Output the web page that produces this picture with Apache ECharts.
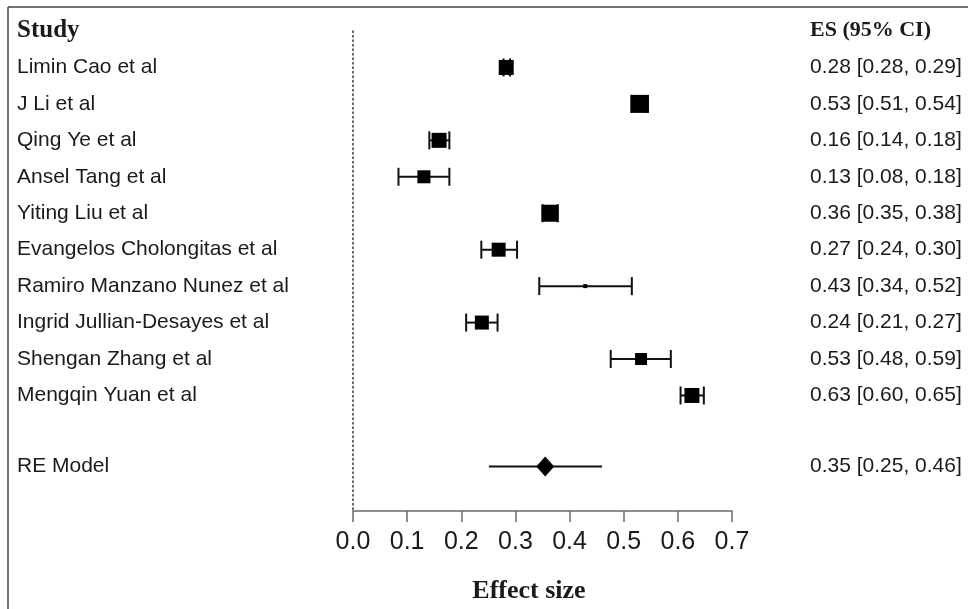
<!DOCTYPE html>
<html><head><meta charset="utf-8">
<script src="https://cdn.jsdelivr.net/npm/echarts@6/dist/echarts.min.js"></script>
<style>html,body{margin:0;padding:0;background:#fff}#c{width:968px;height:609px}</style>
</head><body><div id="c"></div>
<script>
var studies = ["Limin Cao et al","J Li et al","Qing Ye et al","Ansel Tang et al","Yiting Liu et al","Evangelos Cholongitas et al","Ramiro Manzano Nunez et al","Ingrid Jullian-Desayes et al","Shengan Zhang et al","Mengqin Yuan et al"];
var estimates = [0.283, 0.530, 0.159, 0.131, 0.364, 0.269, 0.429, 0.238, 0.532, 0.626];
var lower =     [0.278, 0.514, 0.141, 0.084, 0.350, 0.237, 0.344, 0.209, 0.476, 0.605];
var upper =     [0.290, 0.544, 0.178, 0.178, 0.378, 0.303, 0.515, 0.267, 0.587, 0.648];
var weights =   [15, 18, 15, 13, 17, 14, 4, 14, 12, 15];
var esLabels = ["0.28 [0.28, 0.29]","0.53 [0.51, 0.54]","0.16 [0.14, 0.18]","0.13 [0.08, 0.18]","0.36 [0.35, 0.38]","0.27 [0.24, 0.30]","0.43 [0.34, 0.52]","0.24 [0.21, 0.27]","0.53 [0.48, 0.59]","0.63 [0.60, 0.65]"];
var reName = "RE Model";
var reEstimate = 0.355, reLower = 0.251, reUpper = 0.460;
var reLabel = "0.35 [0.25, 0.46]";
var xTicks = [0, 0.1, 0.2, 0.3, 0.4, 0.5, 0.6, 0.7];

var TXT = '#1a1a1a';
var SANS = '"Liberation Sans", Arial, sans-serif';
var SERIF = '"Liberation Serif", "Times New Roman", serif';
var LEFT_X = 17, RIGHT_X = 810;
var ROW_FONT = '21px ' + SANS;

var studyData = studies.map(function(n, i){ return [estimates[i], lower[i], upper[i], i + 1, weights[i], i]; });
var reData = [[reEstimate, reLower, reUpper, 11.95]];

function textEl(x, y, s, font){
  return {type:'text', style:{x:x, y:y, text:s, font:font, fill:TXT, textVerticalAlign:'middle', textAlign:'left'}};
}

function renderStudy(params, api){
  var est = api.value(0), lo = api.value(1), hi = api.value(2), row = api.value(3), sz = api.value(4), idx = api.value(5);
  var p = api.coord([est, row]), l = api.coord([lo, row]), h = api.coord([hi, row]);
  var capH = 9;
  var st = {stroke:'#111', lineWidth: 2};
  return {type:'group', children:[
    {type:'line', shape:{x1:l[0], y1:p[1], x2:h[0], y2:p[1]}, style:st},
    {type:'line', shape:{x1:l[0], y1:p[1]-capH, x2:l[0], y2:p[1]+capH}, style:st},
    {type:'line', shape:{x1:h[0], y1:p[1]-capH, x2:h[0], y2:p[1]+capH}, style:st},
    {type:'rect', shape:{x:p[0]-sz/2, y:p[1]-sz/2, width:sz, height:sz}, style:{fill:'#000'}},
    textEl(LEFT_X, p[1], studies[idx], ROW_FONT),
    textEl(RIGHT_X, p[1], esLabels[idx], ROW_FONT)
  ]};
}

function renderRE(params, api){
  var est = api.value(0), lo = api.value(1), hi = api.value(2), row = api.value(3);
  var p = api.coord([est, row]), l = api.coord([lo, row]), h = api.coord([hi, row]);
  var w = 9, hh = 10;
  return {type:'group', children:[
    {type:'line', shape:{x1:l[0], y1:p[1], x2:h[0], y2:p[1]}, style:{stroke:'#111', lineWidth:2}},
    {type:'polygon', shape:{points:[[p[0]-w,p[1]],[p[0],p[1]-hh],[p[0]+w,p[1]],[p[0],p[1]+hh]]}, style:{fill:'#000'}},
    textEl(LEFT_X, p[1], reName, ROW_FONT),
    textEl(RIGHT_X, p[1], reLabel, ROW_FONT)
  ]};
}

var chart = echarts.init(document.getElementById('c'));
chart.setOption({
  animation:false,
  backgroundColor:'#fff',
  grid:{left:353, right:236, top:31, bottom:94, containLabel:false},
  xAxis:{
    type:'value', min:0, max:0.7, interval:0.1, position:'bottom',
    name:'Effect size', nameLocation:'middle', nameGap:67,
    nameTextStyle:{fontFamily:SERIF, fontWeight:'bold', fontSize:26, color:TXT, padding:[0,27,0,0]},
    axisLine:{show:true, onZero:false, lineStyle:{color:'#6a6a6a', width:1.5}},
    axisTick:{show:true, length:11, lineStyle:{color:'#6a6a6a', width:1.5}},
    axisLabel:{fontFamily:SANS, fontSize:25, color:TXT, margin:19, formatter:function(v){return v.toFixed(1);}},
    splitLine:{show:false}
  },
  yAxis:{
    type:'value', min:0, max:13.17, inverse:true,
    axisLine:{show:true, onZero:false, lineStyle:{color:'#333', width:1.5, type:[1.5,3]}},
    axisTick:{show:false}, axisLabel:{show:false}, splitLine:{show:false}
  },
  graphic:[
    {type:'line', shape:{x1:8, y1:7, x2:968, y2:7}, style:{stroke:'#444', lineWidth:1.5}},
    {type:'line', shape:{x1:8, y1:7, x2:8, y2:609}, style:{stroke:'#444', lineWidth:1.5}},
    {type:'text', left:LEFT_X, top:18, style:{text:'Study', font:'bold 25px ' + SERIF, fill:TXT}},
    {type:'text', left:RIGHT_X, top:19, style:{text:'ES (95% CI)', font:'bold 22px ' + SERIF, fill:TXT}}
  ],
  series:[
    {type:'custom', renderItem:renderStudy, data:studyData, encode:{x:0, y:3}, clip:false},
    {type:'custom', renderItem:renderRE, data:reData, encode:{x:0, y:3}, clip:false}
  ]
});
</script></body></html>
